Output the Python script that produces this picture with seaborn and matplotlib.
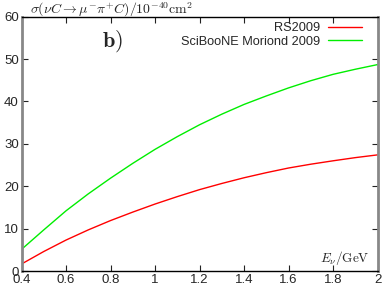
import numpy as np
import pandas as pd
import matplotlib
matplotlib.use("Agg")
import matplotlib.pyplot as plt
import seaborn as sns

# ============================================================
# DATA
# ============================================================

energy = [0.4, 0.5, 0.6, 0.7, 0.8, 0.9, 1.0, 1.1, 1.2,
          1.3, 1.4, 1.5, 1.6, 1.7, 1.8, 1.9, 2.0]
rs2009 = [1.65, 4.6, 7.3, 9.7, 11.9, 13.9, 15.8, 17.55, 19.2,
          20.65, 22.0, 23.2, 24.3, 25.2, 26.0, 26.75, 27.4]
sciboone = [5.1, 9.7, 14.2, 18.2, 21.9, 25.4, 28.7, 31.7, 34.5,
            37.0, 39.3, 41.3, 43.2, 44.9, 46.4, 47.6, 48.7]

series_names = ["RS2009", "SciBooNE Moriond 2009"]
series_colors = ["#ff0000", "#00ee00"]

x_ticks = [0.4, 0.6, 0.8, 1.0, 1.2, 1.4, 1.6, 1.8, 2.0]
x_ticklabels = ["0.4", "0.6", "0.8", "1", "1.2", "1.4", "1.6", "1.8", "2"]
y_ticks = [0, 10, 20, 30, 40, 50, 60]

df = pd.DataFrame({
    "E": energy * 2,
    "sigma": rs2009 + sciboone,
    "model": [series_names[0]] * len(energy) + [series_names[1]] * len(energy),
})

# ============================================================
# PLOT
# ============================================================

sns.set_style("ticks")
plt.rcParams["font.family"] = ["Liberation Sans", "DejaVu Sans"]
plt.rcParams["mathtext.fontset"] = "cm"

fig = plt.figure(figsize=(3.82, 2.88), dpi=100)
ax = fig.add_axes([0.0563, 0.059, 0.932, 0.883])

sns.lineplot(
    data=df, x="E", y="sigma", hue="model",
    palette=dict(zip(series_names, series_colors)),
    linewidth=1.0, ax=ax
)

ax.set_xlim(0.4, 2.0)
ax.set_ylim(0, 60)
ax.set_xticks(x_ticks)
ax.set_xticklabels(x_ticklabels)
ax.set_yticks(y_ticks)
ax.set_xlabel("")
ax.set_ylabel("")
ax.tick_params(direction="in", length=4, width=0.8, color="#222222",
               labelsize=9.5, top=True, right=True, pad=2)

for side in ["left", "right"]:
    ax.spines[side].set_color("#888888")
    ax.spines[side].set_linewidth(2.0)
for side in ["top", "bottom"]:
    ax.spines[side].set_color("black")
    ax.spines[side].set_linewidth(1.0)

leg = ax.legend(
    loc="upper right", bbox_to_anchor=(0.956, 0.978),
    frameon=False, markerfirst=False, fontsize=9.2,
    handlelength=2.65, handletextpad=0.6, labelspacing=0.1,
    borderpad=0, borderaxespad=0
)
# right-align legend text like gnuplot
for col in leg._legend_handle_box.get_children():
    col.align = "right"

ax.text(0.254, 0.905, r"$\mathbf{b)}$", transform=ax.transAxes,
        fontsize=16, ha="center", va="center")
ax.text(0.978, 0.05, r"$E_\nu/\mathrm{GeV}$", transform=ax.transAxes,
        fontsize=9.5, ha="right", va="center")
fig.text(0.078, 0.966, r"$\sigma(\nu C \rightarrow \mu^{-}\pi^{+}C)/10^{-40}\mathrm{cm}^2$",
         fontsize=10, ha="left", va="center")

plt.savefig("out.png", dpi=100)
plt.close()
